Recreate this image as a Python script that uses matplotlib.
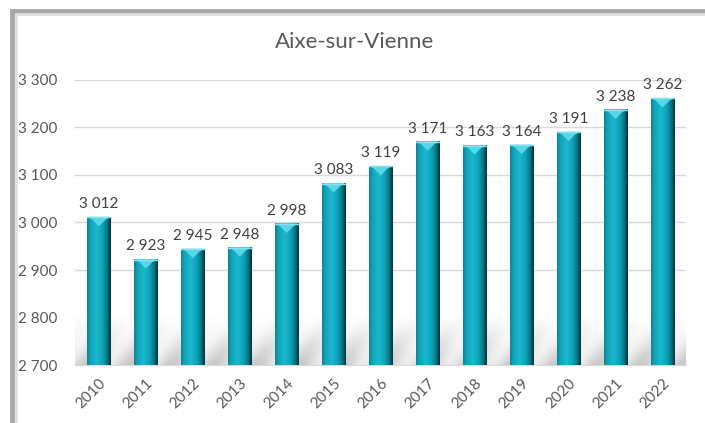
import matplotlib
matplotlib.use("Agg")
import matplotlib.pyplot as plt
import numpy as np
from matplotlib.colors import LinearSegmentedColormap
from matplotlib.patches import Rectangle

years = ["2010", "2011", "2012", "2013", "2014", "2015", "2016",
         "2017", "2018", "2019", "2020", "2021", "2022"]
population = [3012, 2923, 2945, 2948, 2998, 3083, 3119,
              3171, 3163, 3164, 3191, 3238, 3262]
yticks = [2700, 2800, 2900, 3000, 3100, 3200, 3300]


def fmt(v):
    return "{:,}".format(int(v)).replace(",", " ")


plt.rcParams['font.family'] = ['Lato', 'DejaVu Sans']

fig = plt.figure(figsize=(7.05, 4.23), dpi=100)
ax = fig.add_axes([0.107, 0.137, 0.866, 0.674])

# frame around the chart
fig.patches.append(Rectangle((0.017, -0.05), 1.2, 1.025, transform=fig.transFigure,
                             fill=False, edgecolor="#a8a8a8", lw=3.5, zorder=0))
fig.patches.append(Rectangle((0.022, -0.05), 1.2, 1.016, transform=fig.transFigure,
                             fill=False, edgecolor="#dedede", lw=2, zorder=0))

cyl = LinearSegmentedColormap.from_list("cyl", [
    (0.0, "#0c8597"), (0.15, "#14a4b9"), (0.4, "#1ab8cf"),
    (0.65, "#0ea3b9"), (0.85, "#0a7485"), (1.0, "#05323a")])

x = np.arange(len(years))
width = 0.5
n = len(years)

# soft floor reflection with diagonal streaks
gx, gy = np.meshgrid(np.linspace(0, n, 400), np.linspace(0, 1, 40))
streak = 0.5 + 0.5 * np.sin((gx * 2.2 - gy * 1.4) * np.pi)
floor = (1 - gy) ** 1.1 * (0.35 + 0.65 * streak)
ax.imshow(floor, cmap=LinearSegmentedColormap.from_list("fl", ["#ffffff", "#c8c8c8"]),
          aspect="auto", origin="lower", extent=(-0.5, n - 0.5, 2700, 2805),
          zorder=1, vmin=0, vmax=1)

bars = ax.bar(x, population, width, color="#0ea3b9", zorder=3)
grad = np.linspace(0, 1, 64).reshape(1, -1)
for b, v in zip(bars, population):
    x0 = b.get_x()
    im = ax.imshow(grad, cmap=cyl, aspect="auto", zorder=4,
                   extent=(x0, x0 + width, 2700, v))
    im.set_clip_path(b)
    # lighter bevel at the top
    ax.fill([x0, x0 + width, x0 + width * 0.78, x0 + width / 2, x0 + width * 0.22],
            [v, v, v - 6, v - 20, v - 6], color="#58d6e8", zorder=5, lw=0)
    ax.plot([x0, x0 + width], [v - 1, v - 1], color="#7fe3f0", lw=1, zorder=5)
    ax.text(x0 + width / 2, v + 12, fmt(v), ha="center", va="bottom",
            fontsize=11, color="#404040", zorder=6)

ax.set_xlim(-0.5, n - 0.5)
ax.set_ylim(2700, 3300)
ax.set_yticks(yticks)
ax.set_yticklabels([fmt(t) for t in yticks], fontsize=11, color="#595959")
ax.set_xticks(x)
ax.set_xticklabels(years, rotation=45, ha="right", rotation_mode="anchor",
                   fontsize=11, color="#595959")
ax.tick_params(length=0, pad=8)
ax.tick_params(axis="y", pad=13)
ax.grid(axis="y", color="#d9d9d9", lw=1, zorder=0)
ax.set_axisbelow(True)
for s in ax.spines.values():
    s.set_visible(False)
ax.spines["bottom"].set_visible(True)
ax.spines["bottom"].set_color("#d9d9d9")

fig.text(0.503, 0.9, "Aixe-sur-Vienne", ha="center", va="center",
         fontsize=16, color="#595959")

fig.savefig("out.png", dpi=100)
